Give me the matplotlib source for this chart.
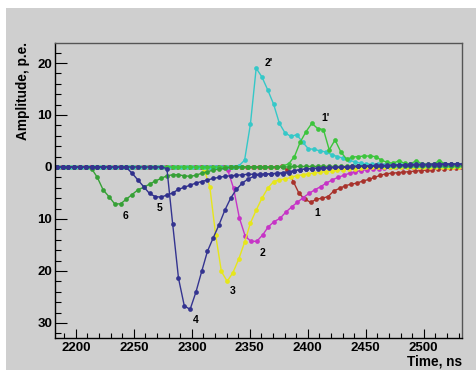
import numpy as np
import matplotlib
matplotlib.use("Agg")
import matplotlib.pyplot as plt
from matplotlib.ticker import MultipleLocator, FuncFormatter
from matplotlib.patches import Rectangle

# sampling step of the digitizer, ns
STEP_NS = 5

# pulse amplitudes (p.e.), one sample every 5 ns from the given start time
start_1 = 2182.5
amp_1 = [0, 0, 0, 0, 0, 0, 0, 0, 0, 0,
         0, 0, 0, 0, 0, 0, 0, 0, 0, 0,
         0, 0, 0, 0, 0, 0, 0, 0, 0, 0,
         0, 0, 0, 0, 0, 0, 0, 0, 0, 0.1,
         -0.6, -2.8, -5.1, -6.2, -6.8, -6.2, -6.0, -5.7, -4.6, -4.1,
         -3.6, -3.3, -3.1, -2.7, -2.4, -2.0, -1.6, -1.3, -1.2, -1.1,
         -1.0, -0.9, -0.8, -0.7, -0.6, -0.5, -0.4, -0.3, -0.2, -0.2,
         -0.1]

start_2 = 2181
amp_2 = [0, 0, 0, 0, 0, 0, 0, 0, 0, 0,
         0, 0, 0, 0, 0, 0, 0, 0, 0, 0,
         0, 0, 0, 0, 0, 0, 0, 0, 0, 0,
         -0.6, -4.1, -9.8, -13.3, -14.3, -14.3, -13.1, -11.5, -10.5, -9.9,
         -8.7, -7.7, -6.8, -5.9, -5.1, -4.4, -3.8, -3.1, -2.5, -2.0,
         -1.6, -1.2, -0.9, -0.7, -0.5, -0.4, -0.3, -0.2, -0.1, 0,
         0, 0, 0, 0, 0, 0, 0, 0, 0, 0,
         0]

start_3 = 2180.5
amp_3 = [0, 0, 0, 0, 0, 0, 0, 0, 0, 0,
         0, 0, 0, 0, 0, 0, 0, 0, 0, 0,
         0, 0, 0, 0, 0, 0, -0.4, -3.8, -13.0, -20.1,
         -22.0, -20.3, -17.7, -14.5, -10.8, -8.3, -6.0, -4.1, -2.8, -2.5,
         -2.3, -2.0, -1.7, -1.5, -1.3, -1.2, -1.0, -0.9, -0.8, -0.6,
         -0.5, -0.4, -0.3, -0.2, -0.1, 0, 0, 0, 0, 0,
         0, 0, 0, 0, 0, 0, 0, 0, 0, 0,
         0]

start_4 = 2178.5
amp_4 = [0, 0, 0, 0, 0, 0, 0, 0, 0, 0,
         0, 0, 0, 0, 0, 0, 0, 0, 0, 0,
         -0.3, -11.0, -21.4, -26.7, -27.4, -24.1, -20.1, -16.2, -13.6, -11.1,
         -8.3, -6.0, -4.3, -3.1, -2.3, -1.8, -1.5, -1.4, -1.3, -1.2,
         -1.1, -0.9, -0.7, -0.5, -0.4, -0.3, -0.2, -0.2, -0.1, -0.1,
         0, 0, 0.1, 0.1, 0.2, 0.2, 0.3, 0.3, 0.3, 0.4,
         0.4, 0.4, 0.5, 0.5, 0.5, 0.5, 0.6, 0.6, 0.6, 0.6,
         0.6, 0.6]

start_5 = 2178.5
amp_5 = [0, 0, 0, 0, 0, 0, 0, 0, 0, 0,
         0, 0, 0, -0.1, -1.2, -2.5, -3.8, -5.1, -5.7, -5.8,
         -5.4, -5.0, -4.3, -3.9, -3.5, -3.1, -2.8, -2.5, -2.2, -2.0,
         -1.8, -1.7, -1.6, -1.5, -1.4, -1.4, -1.4, -1.4, -1.3, -1.3,
         -1.3, -1.1, -0.8, -0.5, -0.4, -0.3, -0.3, -0.2, -0.2, -0.1,
         -0.1, 0, 0, 0.1, 0.1, 0.1, 0.2, 0.2, 0.2, 0.3,
         0.3, 0.3, 0.3, 0.4, 0.4, 0.4, 0.4, 0.4, 0.5, 0.5,
         0.5, 0.5]

start_6 = 2178.5
amp_6 = [0, 0, 0, 0, 0, 0, 0, -0.3, -2.0, -4.4,
         -5.7, -7.1, -7.1, -6.2, -5.3, -4.4, -3.9, -3.3, -2.7, -2.2,
         -1.7, -1.5, -1.5, -1.7, -1.8, -1.6, -1.2, -0.9, -0.6, -0.4,
         -0.2, -0.1, 0, 0, 0, 0, 0, 0, 0, 0,
         0, 0, 0.1, 0.1, 0.1, 0.1, 0.1, 0.1, 0.1, 0.1,
         0.1, 0.1, 0.2, 0.2, 0.2, 0.2, 0.2, 0.2, 0.2, 0.2,
         0.2, 0.2, 0.2, 0.2, 0.2, 0.2, 0.2, 0.2, 0.2, 0.2,
         0.2, 0.2]

start_2p = 2180.5
amp_2p = [0, 0, 0, 0, 0, 0, 0, 0, 0, 0,
          0, 0, 0, 0, 0, 0, 0, 0, 0, 0,
          0, 0, 0, 0, 0, 0, 0, 0, 0, 0,
          0, 0, 0.2, 1.3, 8.2, 19.0, 17.3, 14.8, 12.1, 8.4,
          6.5, 5.9, 6.2, 4.8, 3.5, 3.4, 3.1, 2.9, 2.4, 2.0,
          1.7, 1.3, 1.0, 0.7, 0.6, 0.5, 0.5, 0.4, 0.4, 0.4,
          0.4, 0.4, 0.4, 0.4, 0.3, 0.3, 0.3, 0.3, 0.3, 0.3,
          0.3]

start_1p = 2178.5
amp_1p = [0, 0, 0, 0, 0, 0, 0, 0, 0, 0,
          0, 0, 0, 0, 0, 0, 0, 0, 0, 0,
          0, 0, 0, 0, 0, 0, 0, 0, 0, 0,
          0, 0, 0, 0, 0, 0, 0, 0, 0, 0,
          0.2, 0.6, 2.0, 4.8, 6.8, 8.4, 7.4, 7.2, 3.3, 5.2,
          2.9, 1.5, 1.9, 2.0, 2.1, 2.1, 2.0, 1.3, 0.9, 0.7,
          1.2, 0.7, 0.6, 1.2, 0.6, 0.5, 0.6, 1.2, 0.6, 0.5,
          0.5, 0.5]

# curve tags written next to the pulses (time, amplitude)
tag_text = ["1", "2", "3", "4", "5", "6", "2'", "1'"]
tag_x = [2408, 2361, 2335, 2303, 2272, 2243, 2366, 2415]
tag_y = [-8.8, -16.6, -23.8, -29.4, -7.8, -9.4, 20.0, 9.4]

BG = "#cfcfcf"

curves = [
    (start_1, amp_1, "#a8322c"),
    (start_2, amp_2, "#c634c6"),
    (start_3, amp_3, "#e6e61a"),
    (start_2p, amp_2p, "#35c8c8"),
    (start_1p, amp_1p, "#3cc43c"),
    (start_6, amp_6, "#36a036"),
    (start_5, amp_5, "#30308c"),
    (start_4, amp_4, "#343490"),
]

fig = plt.figure(figsize=(4.76, 3.70), dpi=100, facecolor="white")
fig.patches.append(Rectangle((6 / 476, 0), 1, 362 / 370, transform=fig.transFigure,
                             facecolor=BG, edgecolor="none", zorder=-10))

ax = fig.add_axes([55 / 476, 32 / 370, 407 / 476, 295 / 370])
ax.set_facecolor(BG)

for start, amp, color in curves:
    t = start + STEP_NS * np.arange(len(amp))
    ax.plot(t, amp, color=color, lw=1.0, marker="o", ms=3.4, mew=0)

ax.set_xlim(2182, 2533)
ax.set_ylim(-32.9, 23.85)

ax.xaxis.set_major_locator(MultipleLocator(50))
ax.xaxis.set_minor_locator(MultipleLocator(10))
ax.yaxis.set_major_locator(MultipleLocator(10))
ax.yaxis.set_minor_locator(MultipleLocator(2))
ax.yaxis.set_major_formatter(FuncFormatter(lambda v, p: "%d" % abs(round(v))))

ax.tick_params(direction="in", which="both", top=False, right=False, width=0.8)
ax.tick_params(axis="x", which="major", length=6.5, pad=3)
ax.tick_params(axis="x", which="minor", length=3.5)
ax.tick_params(axis="y", which="major", length=8.6, pad=2)
ax.tick_params(axis="y", which="minor", length=4.3)

font = dict(family="Liberation Sans", weight="bold")
for lab in ax.get_xticklabels() + ax.get_yticklabels():
    lab.set_fontfamily("Liberation Sans")
    lab.set_fontweight("bold")
    lab.set_fontsize(9.5)

for side in ["top", "right"]:
    ax.spines[side].set_color("#555555")
for side in ["left", "bottom"]:
    ax.spines[side].set_color("black")
for sp in ax.spines.values():
    sp.set_linewidth(1.0)

for s, x, y in zip(tag_text, tag_x, tag_y):
    ax.text(x, y, s, fontsize=7.5, ha="center", va="center", **font)

fig.text(23 / 476, 1 - 42 / 370, "Amplitude, p.e.", rotation=90, ha="center",
         va="top", fontsize=9.8, **font)
fig.text(462 / 476, 1 - 362 / 370, "Time, ns", ha="right", va="center",
         fontsize=9.8, **font)

fig.savefig("out.png", dpi=100, facecolor=fig.get_facecolor())
